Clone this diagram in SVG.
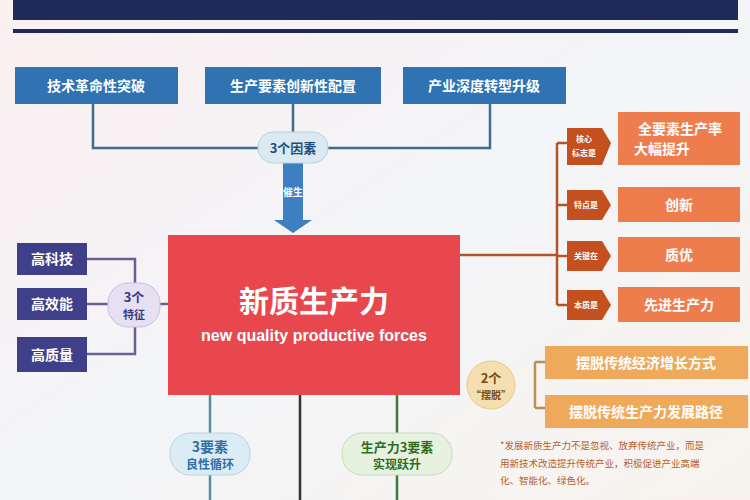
<svg xmlns="http://www.w3.org/2000/svg" width="750" height="500" viewBox="0 0 750 500">
<defs>
<style>
text{font-family:"Noto Sans CJK SC","Liberation Sans",sans-serif;font-weight:bold;text-anchor:middle}
.bl{fill:#2f73b3}.wt{fill:#fff}
.ln{fill:none;stroke-width:2.5}
.en{font-family:"Liberation Sans",Arial,sans-serif}
</style>
<linearGradient id="bg" x1="0" y1="0" x2="1" y2="1"><stop offset="0" stop-color="#fbeff0"/><stop offset="0.5" stop-color="#f3f5f8"/><stop offset="1" stop-color="#f8f3ee"/></linearGradient>
</defs>
<rect width="750" height="500" fill="url(#bg)"/>
<rect x="13" y="0" width="725" height="20" fill="#1d2a5a"/>
<rect x="13" y="29" width="725" height="4" fill="#1d2a5a"/>
<g id="connectors">
<path class="ln" stroke="#3f6d8e" d="M93 104V148H490V104M293 104V148"/>
<path class="ln" stroke="#6b5f9a" d="M87 259H135V354H87M87 304H168"/>
<path class="ln" stroke="#b4532a" d="M460 255H557M557 143V305M557 143H567M557 205H567M557 256H567M557 305H567"/>
<path class="ln" stroke="#b89050" d="M470 385H490M535 362V408M535 362H545M535 408H545"/>
<path class="ln" stroke="#4f8fa0" d="M210 395V500"/>
<path class="ln" stroke="#333" d="M300 395V500"/>
<path class="ln" stroke="#3f7a3a" d="M397 395V500"/>
<polygon points="283,163 303,163 303,220 312,220 293,233 274,220 283,220" fill="#3d7fc0"/>
<text x="293" y="196" font-size="10" fill="#fff">催生</text>
</g>
<g id="top1"><rect x="15" y="67" width="163" height="37" class="bl"/><text x="96" y="91" font-size="14" class="wt">技术革命性突破</text></g>
<g id="top2"><rect x="205" y="67" width="176" height="37" class="bl"/><text x="293" y="91" font-size="14" class="wt">生产要素创新性配置</text></g>
<g id="top3"><rect x="403" y="67" width="163" height="37" class="bl"/><text x="484" y="91" font-size="14" class="wt">产业深度转型升级</text></g>
<g id="factor"><rect x="258" y="132" width="70" height="31" rx="15" fill="#dbe9f2" stroke="#b9d0de"/><text x="293" y="153" font-size="13" fill="#1f4e7a">3个因素</text></g>
<g id="main"><rect x="168" y="235" width="292" height="160" fill="#e8474d"/>
<text x="314" y="312" font-size="30" class="wt">新质生产力</text>
<text x="314" y="341" font-size="16" class="wt en">new quality productive forces</text></g>
<g id="l1"><rect x="17" y="243" width="70" height="32" fill="#3f3f8a"/><text x="52" y="264" font-size="14" class="wt">高科技</text></g>
<g id="l2"><rect x="17" y="288" width="70" height="32" fill="#3f3f8a"/><text x="52" y="309" font-size="14" class="wt">高效能</text></g>
<g id="l3"><rect x="17" y="337" width="70" height="35" fill="#3f3f8a"/><text x="52" y="360" font-size="14" class="wt">高质量</text></g>
<g id="feat"><rect x="108" y="283" width="52" height="44" rx="20" fill="#e6e0f2" stroke="#c9c0e0"/><text x="134" y="302" font-size="13" fill="#3a3a80">3个</text><text x="134" y="319" font-size="11" fill="#3a3a80">特征</text></g>
<g id="t1"><polygon points="567,128 602,128 611,143 602,165 567,165" fill="#c4501f"/><text x="584" y="142" font-size="8" class="wt">核心</text><text x="584" y="156" font-size="8" class="wt">标志是</text></g>
<g id="t2"><polygon points="567,190 602,190 611,205 602,220 567,220" fill="#c4501f"/><text x="586" y="208" font-size="8" class="wt">特点是</text></g>
<g id="t3"><polygon points="567,241 602,241 611,256 602,271 567,271" fill="#c4501f"/><text x="586" y="259" font-size="8" class="wt">关键在</text></g>
<g id="t4"><polygon points="567,290 602,290 611,305 602,320 567,320" fill="#c4501f"/><text x="586" y="308" font-size="8" class="wt">本质是</text></g>
<g id="o1"><rect x="618" y="112" width="122" height="53" fill="#ee7d4e"/><text x="680" y="134" font-size="14" class="wt">全要素生产率</text><text x="662" y="154" font-size="14" class="wt">大幅提升</text></g>
<g id="o2"><rect x="618" y="187" width="122" height="35" fill="#ee7d4e"/><text x="679" y="210" font-size="14" class="wt">创新</text></g>
<g id="o3"><rect x="618" y="237" width="122" height="35" fill="#ee7d4e"/><text x="679" y="260" font-size="14" class="wt">质优</text></g>
<g id="o4"><rect x="618" y="287" width="122" height="35" fill="#ee7d4e"/><text x="679" y="310" font-size="14" class="wt">先进生产力</text></g>
<g id="two"><circle cx="491" cy="385" r="24" fill="#f5dfb0" stroke="#e7c98a"/><text x="491" y="383" font-size="13" fill="#7a4a10">2个</text><text x="491" y="399" font-size="10" fill="#7a4a10">“摆脱”</text></g>
<g id="b1"><rect x="545" y="346" width="203" height="33" fill="#efa95a"/><text x="646" y="368" font-size="14" class="wt">摆脱传统经济增长方式</text></g>
<g id="b2"><rect x="545" y="395" width="203" height="33" fill="#efa95a"/><text x="646" y="417" font-size="14" class="wt">摆脱传统生产力发展路径</text></g>
<g id="note" font-size="9.5" fill="#b8602a">
<text x="500" y="449" style="text-anchor:start;font-weight:normal">*发展新质生产力不是忽视、放弃传统产业，而是</text>
<text x="500" y="467" style="text-anchor:start;font-weight:normal">用新技术改造提升传统产业，积极促进产业高端</text>
<text x="500" y="484" style="text-anchor:start;font-weight:normal">化、智能化、绿色化。</text></g>
<g id="p1"><rect x="170" y="433" width="80" height="42" rx="20" fill="#dcecf5" stroke="#b7d4e4"/><text x="210" y="452" font-size="14" fill="#2f6fa6">3要素</text><text x="210" y="469" font-size="12" fill="#2f6fa6">良性循环</text></g>
<g id="p2"><rect x="342" y="433" width="110" height="42" rx="20" fill="#e6f1df" stroke="#c5dcb8"/><text x="397" y="452" font-size="13" fill="#2e6e1e">生产力3要素</text><text x="397" y="469" font-size="12" fill="#2e6e1e">实现跃升</text></g>
</svg>
